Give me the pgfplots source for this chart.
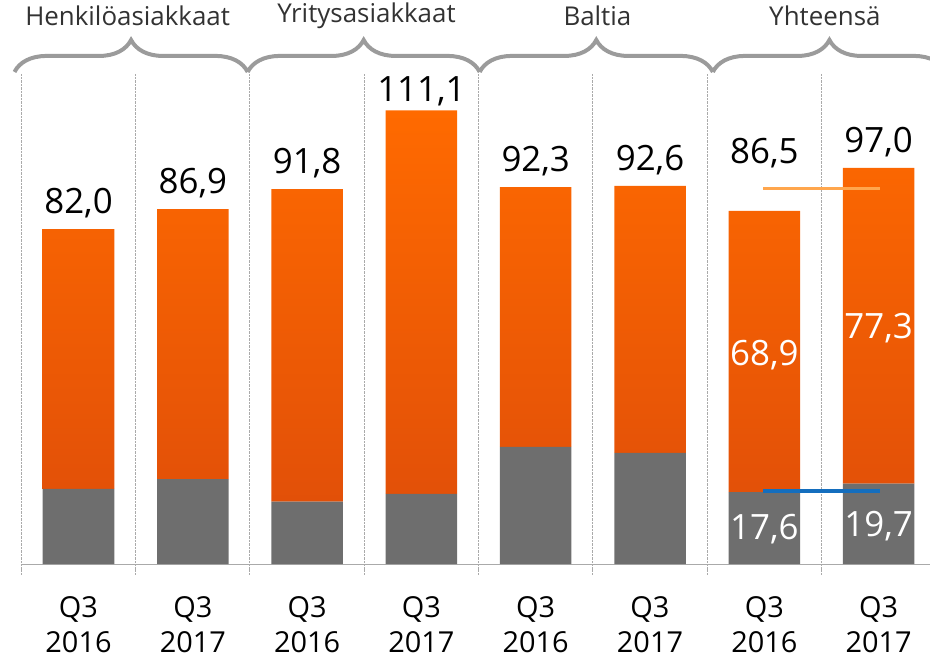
\documentclass[border=0pt]{standalone}
\usepackage{pgfplots}
\pgfplotsset{compat=1.18}
\usepackage{pgfplotstable}
\usepackage{fontspec}
\setmainfont{Open Sans}
\usetikzlibrary{decorations.pathreplacing}

\definecolor{otop}{RGB}{255,106,0}
\definecolor{obot}{RGB}{226,80,8}
\definecolor{bgray}{RGB}{110,110,110}
\definecolor{sep}{RGB}{170,170,170}
\definecolor{brc}{RGB}{155,155,155}
\definecolor{avgor}{RGB}{255,166,77}
\definecolor{avgbl}{RGB}{20,110,190}
\definecolor{labc}{RGB}{50,50,50}

% ly = vertical position of the total label (value axis units)
\pgfplotstableread{
x gray orange total ly lab
0 18.4 63.6 82.0 82.0 82,0
1 20.8 66.1 86.9 86.9 86,9
2 15.3 76.5 91.8 91.8 91,8
3 17.2 93.9 111.1 109.4 111,1
4 28.7 63.6 92.3 92.3 92,3
5 27.2 65.4 92.6 92.6 92,6
6 17.6 68.9 86.5 94.3 86,5
7 19.7 77.3 97.0 97.0 97,0
}\datatable

\begin{document}
\begin{tikzpicture}
\begin{axis}[
  at={(0,0)}, anchor=south west,
  scale only axis, width=914.4bp, height=490bp,
  xmin=-0.5, xmax=7.5, ymin=0, ymax=120,
  ybar stacked, bar width=71.5bp,
  axis x line=bottom, axis y line=none,
  axis line style={draw=sep, line width=1bp, -},
  xtick={0,...,7},
  xticklabels={{Q3\\2016},{Q3\\2017},{Q3\\2016},{Q3\\2017},{Q3\\2016},{Q3\\2017},{Q3\\2016},{Q3\\2017}},
  major tick length=0pt,
  minor xtick={-0.5,0.5,...,6.5},
  minor tick length=10bp, tick align=outside,
  xminorgrids,
  minor grid style={sep, densely dotted, line width=1bp},
  minor tick style={sep, densely dotted, line width=1bp},
  xticklabel style={align=center, font=\fontsize{29}{35}\selectfont, text=black, yshift=-29bp},
  clip=false,
]
\addplot[draw=none, fill=bgray] table[x=x, y=gray] {\datatable};
\addplot[draw=none, top color=otop, bottom color=obot] table[x=x, y=orange] {\datatable};
\end{axis}
\begin{axis}[
  at={(0,0)}, anchor=south west,
  scale only axis, width=914.4bp, height=490bp,
  xmin=-0.5, xmax=7.5, ymin=0, ymax=120,
  axis lines=none, clip=false,
]
\addplot[draw=none, mark=none, nodes near coords, point meta=explicit symbolic,
  nodes near coords style={font=\fontsize{35}{35}\selectfont, text=black, inner sep=0pt, anchor=south, yshift=11bp}]
  table[x=x, y=ly, meta=lab] {\datatable};
\addplot[avgor, line width=3bp] coordinates {(5.99,91.9) (7.01,91.9)};
\addplot[avgbl, line width=4bp] coordinates {(5.99,17.9) (7.01,17.9)};
\node[text=white, font=\fontsize{35}{35}\selectfont] at (axis cs:6,51.2) {68,9};
\node[text=white, font=\fontsize{35}{35}\selectfont] at (axis cs:7,57.8) {77,3};
\node[text=white, font=\fontsize{35}{35}\selectfont] at (axis cs:6,8.5) {17,6};
\node[text=white, font=\fontsize{35}{35}\selectfont] at (axis cs:7,9.2) {19,7};
\draw[brc, line width=4bp, decorate, decoration={brace, amplitude=32bp}] (axis cs:-0.56,120.5) -- (axis cs:1.48,120.5);
\draw[brc, line width=4bp, decorate, decoration={brace, amplitude=32bp}] (axis cs:1.48,120.5) -- (axis cs:3.51,120.5);
\draw[brc, line width=4bp, decorate, decoration={brace, amplitude=32bp}] (axis cs:3.51,120.5) -- (axis cs:5.55,120.5);
\draw[brc, line width=4bp, decorate, decoration={brace, amplitude=32bp}] (axis cs:5.55,120.5) -- (axis cs:7.59,120.5);
\node[text=labc, font=\fontsize{26}{26}\selectfont] at (axis cs:0.43,134.2) {Henkilöasiakkaat};
\node[text=labc, font=\fontsize{26}{26}\selectfont] at (axis cs:2.52,134.2) {Yritysasiakkaat};
\node[text=labc, font=\fontsize{26}{26}\selectfont] at (axis cs:4.54,134.2) {Baltia};
\node[text=labc, font=\fontsize{26}{26}\selectfont] at (axis cs:6.53,134.2) {Yhteensä};
\end{axis}
\pgfresetboundingbox
\path[use as bounding box] (-21.35bp,-95bp) rectangle (908.65bp,564bp);
\end{tikzpicture}
\end{document}
